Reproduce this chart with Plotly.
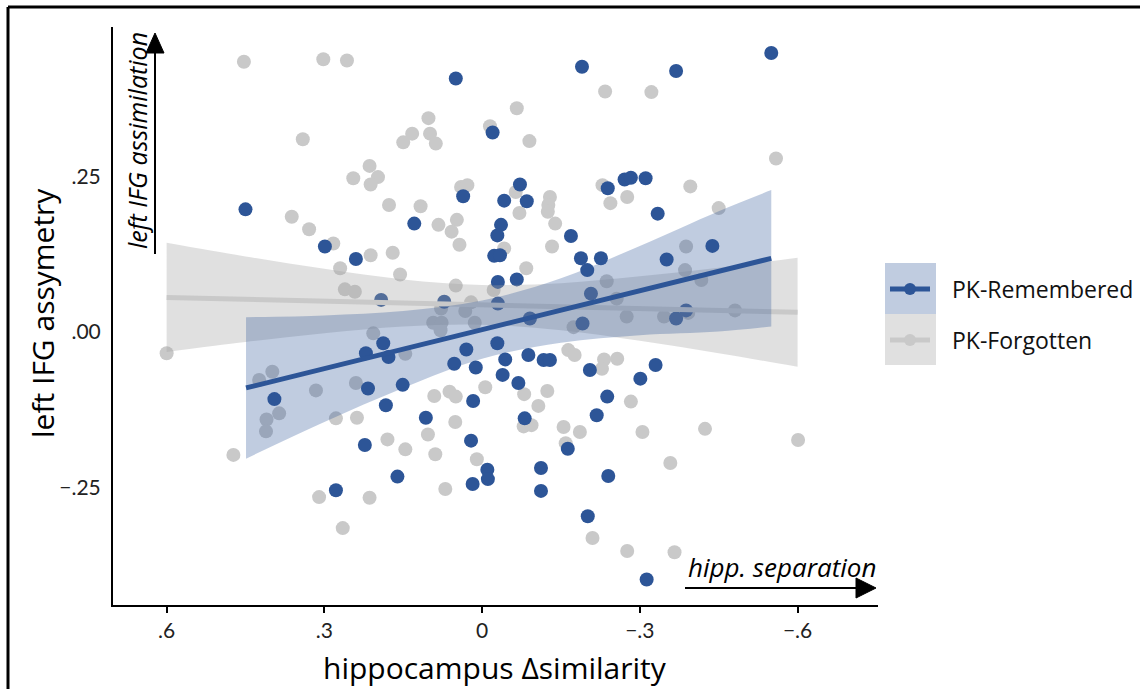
import plotly.graph_objects as go

# ---------------- data ----------------
blue_x = [0.050, -0.020, 0.450, 0.036, 0.129, 0.299, 0.240, 0.192, 0.072, -0.072,
          -0.042, -0.085, -0.036, -0.029, -0.169, -0.023, -0.034, -0.188, -0.226, -0.200,
          -0.030, -0.066, -0.239, -0.271, -0.283, -0.190, -0.369, -0.550, -0.311, -0.334,
          -0.351, -0.438, -0.030, -0.091, -0.207, -0.191, -0.369, -0.388, 0.188, 0.178,
          0.217, 0.151, 0.183, 0.030, -0.029, 0.053, 0.012, -0.044, -0.088, -0.117,
          -0.129, -0.039, -0.069, -0.205, 0.017, 0.107, -0.081, -0.238, -0.218, 0.021,
          -0.163, -0.010, -0.011, -0.112, 0.395, 0.221, 0.223, 0.161, 0.278, 0.018,
          -0.112, -0.240, -0.201, -0.313, -0.301, -0.330]
blue_y = [0.409, 0.322, 0.198, 0.219, 0.175, 0.138, 0.118, 0.052, 0.049, 0.238,
          0.212, 0.211, 0.173, 0.156, 0.155, 0.123, 0.124, 0.119, 0.119, 0.100,
          0.081, 0.085, 0.232, 0.246, 0.249, 0.428, 0.421, 0.450, 0.248, 0.191,
          0.117, 0.139, 0.046, 0.022, 0.062, 0.014, 0.022, 0.035, -0.018, -0.040,
          -0.091, -0.085, -0.118, -0.028, -0.018, -0.051, -0.057, -0.044, -0.037, -0.045,
          -0.045, -0.069, -0.082, -0.061, -0.111, -0.138, -0.139, -0.104, -0.134, -0.175,
          -0.188, -0.222, -0.237, -0.219, -0.108, -0.034, -0.182, -0.233, -0.255, -0.245,
          -0.256, -0.232, -0.297, -0.399, -0.075, -0.053]

gray_x = [0.453, 0.302, 0.257, 0.102, -0.015, 0.133, 0.150, 0.099, 0.088, 0.341,
          0.214, 0.198, 0.245, 0.212, 0.040, 0.028, 0.177, 0.117, 0.362, 0.329,
          0.083, 0.048, 0.058, 0.043, 0.283, 0.212, 0.170, 0.270, 0.156, 0.261,
          0.242, 0.050, -0.234, -0.066, -0.090, -0.064, -0.129, -0.126, -0.125, -0.071,
          -0.139, -0.042, -0.133, -0.084, -0.229, -0.244, -0.276, -0.237, -0.322, -0.559,
          -0.396, -0.450, -0.388, -0.022, -0.386, -0.417, 0.032, 0.021, 0.014, -0.256,
          -0.275, -0.346, -0.481, -0.174, -0.392, 0.078, 0.093, 0.077, 0.079, 0.207,
          0.146, -0.164, -0.176, -0.232, -0.257, -0.228, 0.091, 0.062, 0.050, -0.006,
          -0.080, -0.124, -0.107, 0.051, 0.103, 0.180, 0.146, 0.089, -0.079, -0.094,
          -0.155, -0.186, -0.159, 0.010, -0.283, 0.600, 0.424, 0.399, 0.386, 0.410,
          0.411, 0.316, 0.240, 0.473, 0.278, 0.238, 0.070, 0.310, 0.214, 0.265,
          -0.305, -0.424, -0.601, -0.358, -0.210, -0.276, -0.366]
gray_y = [0.436, 0.440, 0.438, 0.345, 0.332, 0.320, 0.306, 0.320, 0.304, 0.311,
          0.268, 0.250, 0.248, 0.238, 0.234, 0.237, 0.205, 0.203, 0.186, 0.166,
          0.173, 0.181, 0.162, 0.141, 0.143, 0.124, 0.128, 0.103, 0.093, 0.069,
          0.065, 0.075, 0.388, 0.361, 0.308, 0.226, 0.218, 0.205, 0.194, 0.192,
          0.175, 0.135, 0.138, 0.103, 0.237, 0.208, 0.218, 0.082, 0.387, 0.280,
          0.235, 0.200, 0.138, 0.068, 0.100, 0.084, 0.034, 0.048, 0.015, 0.054,
          0.025, 0.025, 0.035, 0.008, 0.031, 0.038, 0.015, 0.015, 0.003, -0.002,
          -0.035, -0.029, -0.037, -0.044, -0.043, -0.059, -0.103, -0.096, -0.104, -0.089,
          -0.100, -0.095, -0.119, -0.145, -0.165, -0.173, -0.189, -0.197, -0.152, -0.150,
          -0.153, -0.161, -0.179, -0.205, -0.112, -0.034, -0.077, -0.064, -0.131, -0.141,
          -0.160, -0.094, -0.082, -0.198, -0.139, -0.138, -0.253, -0.266, -0.267, -0.316,
          -0.161, -0.156, -0.174, -0.211, -0.332, -0.353, -0.355]

# linear fits with 95% confidence bands
blue_fit_x = [0.449, 0.30, 0.15, 0.0, -0.15, -0.30, -0.45, -0.55]
blue_fit_y = [-0.090, -0.059, -0.028, 0.004, 0.035, 0.067, 0.098, 0.119]
blue_lo = [-0.204, -0.145, -0.090, -0.043, -0.017, -0.005, 0.001, 0.009]
blue_hi = [0.024, 0.027, 0.034, 0.051, 0.087, 0.139, 0.195, 0.229]

gray_fit_x = [0.60, 0.45, 0.30, 0.15, 0.0, -0.15, -0.30, -0.45, -0.60]
gray_fit_y = [0.056, 0.053, 0.050, 0.047, 0.044, 0.041, 0.038, 0.035, 0.032]
gray_lo = [-0.032, -0.016, -0.002, 0.009, 0.012, 0.003, -0.014, -0.034, -0.056]
gray_hi = [0.144, 0.122, 0.102, 0.085, 0.076, 0.079, 0.090, 0.104, 0.120]

x_ticks = [0.6, 0.3, 0.0, -0.3, -0.6]
x_ticktext = [".6", ".3", "0", "\u2212.3", "\u2212.6"]
y_ticks = [0.25, 0.0, -0.25]
y_ticktext = [".25", ".00", "\u2212.25"]

series_names = ["PK-Remembered", "PK-Forgotten"]

# ---------------- styling ----------------
BLUE = "#2D5597"
GRAY = "#C9C9C9"
BLUE_FILL = "rgba(46,85,151,0.30)"
GRAY_FILL = "rgba(160,160,160,0.33)"
FONT = "Open Sans"
TICK_FONT = "Lato"

W, H = 1140, 689
L, R, T, B = 113, 878, 27, 605   # plot area in pixels


def px(xp):
    return (xp - L) / (R - L)


def py(yp):
    return (B - yp) / (B - T)


fig = go.Figure()

# points
fig.add_trace(go.Scatter(x=gray_x, y=gray_y, mode="markers",
                         marker=dict(size=14, color=GRAY), showlegend=False, hoverinfo="skip"))
fig.add_trace(go.Scatter(x=blue_x, y=blue_y, mode="markers",
                         marker=dict(size=14, color=BLUE), showlegend=False, hoverinfo="skip"))

# gray ribbon + line
fig.add_trace(go.Scatter(x=gray_fit_x, y=gray_lo, mode="lines", line=dict(width=0, shape="spline"),
                         showlegend=False, hoverinfo="skip"))
fig.add_trace(go.Scatter(x=gray_fit_x, y=gray_hi, mode="lines", line=dict(width=0, shape="spline"),
                         fill="tonexty", fillcolor=GRAY_FILL, showlegend=False, hoverinfo="skip"))
fig.add_trace(go.Scatter(x=gray_fit_x, y=gray_fit_y, mode="lines", line=dict(width=5, color=GRAY),
                         showlegend=False, hoverinfo="skip"))
# blue ribbon + line
fig.add_trace(go.Scatter(x=blue_fit_x, y=blue_lo, mode="lines", line=dict(width=0, shape="spline"),
                         showlegend=False, hoverinfo="skip"))
fig.add_trace(go.Scatter(x=blue_fit_x, y=blue_hi, mode="lines", line=dict(width=0, shape="spline"),
                         fill="tonexty", fillcolor=BLUE_FILL, showlegend=False, hoverinfo="skip"))
fig.add_trace(go.Scatter(x=blue_fit_x, y=blue_fit_y, mode="lines", line=dict(width=5, color=BLUE),
                         showlegend=False, hoverinfo="skip"))

shapes = []
annotations = []

# outer frame (left and top edges visible)
shapes.append(dict(type="line", xref="paper", yref="paper", x0=px(8), x1=px(8), y0=py(7), y1=py(720),
                   line=dict(color="black", width=3)))
shapes.append(dict(type="line", xref="paper", yref="paper", x0=px(8), x1=px(1160), y0=py(7), y1=py(7),
                   line=dict(color="black", width=3)))

# vertical arrow "left IFG assimilation"
shapes.append(dict(type="line", xref="paper", yref="paper", x0=px(155), x1=px(155), y0=py(254), y1=py(48),
                   line=dict(color="black", width=2)))
shapes.append(dict(type="path", xref="paper", yref="paper",
                   path=f"M {px(146)} {py(53)} L {px(164)} {py(53)} L {px(155)} {py(33)} Z",
                   fillcolor="black", line=dict(color="black", width=1)))
# horizontal arrow "hipp. separation"
shapes.append(dict(type="line", xref="paper", yref="paper", x0=px(685), x1=px(860), y0=py(588), y1=py(588),
                   line=dict(color="black", width=2)))
shapes.append(dict(type="path", xref="paper", yref="paper",
                   path=f"M {px(856)} {py(578)} L {px(856)} {py(598)} L {px(876)} {py(588)} Z",
                   fillcolor="black", line=dict(color="black", width=1)))

annotations.append(dict(text="<i>left IFG assimilation</i>", xref="paper", yref="paper",
                        x=px(137), y=py(141), textangle=-90, showarrow=False,
                        xanchor="center", yanchor="middle",
                        font=dict(family=FONT, size=25, color="black")))
annotations.append(dict(text="<i>hipp. separation</i>", xref="paper", yref="paper",
                        x=px(782), y=py(567), showarrow=False, xanchor="center", yanchor="middle",
                        font=dict(family=FONT, size=26, color="black")))

# axis titles
annotations.append(dict(text="left IFG assymetry", xref="paper", yref="paper",
                        x=px(42), y=py(313), textangle=-90, showarrow=False,
                        xanchor="center", yanchor="middle",
                        font=dict(family=FONT, size=30, color="black")))
annotations.append(dict(text="hippocampus \u0394similarity", xref="paper", yref="paper",
                        x=px(495), y=py(667), showarrow=False, xanchor="center", yanchor="middle",
                        font=dict(family=FONT, size=30, color="black")))

# legend
key_fills = [BLUE_FILL, GRAY_FILL]
key_cols = [BLUE, GRAY]
key_tops = [263, 314]
for name, kf, kc, top in zip(series_names, key_fills, key_cols, key_tops):
    cy = top + 26
    shapes.append(dict(type="rect", xref="paper", yref="paper", x0=px(885), x1=px(936),
                       y0=py(top + 51), y1=py(top), fillcolor=kf, line=dict(width=0)))
    shapes.append(dict(type="line", xref="paper", yref="paper", x0=px(890), x1=px(930),
                       y0=py(cy), y1=py(cy), line=dict(color=kc, width=5)))
    shapes.append(dict(type="circle", xref="paper", yref="paper", x0=px(904), x1=px(916),
                       y0=py(cy + 6), y1=py(cy - 6), fillcolor=kc, line=dict(width=0)))
    annotations.append(dict(text=name, xref="paper", yref="paper", x=px(950), y=py(cy),
                            xanchor="left", yanchor="middle", showarrow=False,
                            font=dict(family=FONT, size=23, color="#111111")))

fig.update_layout(
    width=W, height=H,
    margin=dict(l=L, r=W - R, t=T, b=H - B, pad=0),
    paper_bgcolor="white", plot_bgcolor="white",
    showlegend=False,
    shapes=shapes, annotations=annotations,
    font=dict(family=FONT, color="#222222"),
    xaxis=dict(range=[0.702, -0.753], tickvals=x_ticks, ticktext=x_ticktext,
               showgrid=False, zeroline=False, showline=True, linecolor="black", linewidth=2,
               ticks="outside", ticklen=6, tickwidth=2, tickcolor="black",
               tickfont=dict(family=TICK_FONT, size=21, color="#222222")),
    yaxis=dict(range=[-0.440, 0.492], tickvals=y_ticks, ticktext=y_ticktext,
               showgrid=False, zeroline=False, showline=True, linecolor="black", linewidth=2,
               ticks="outside", ticklen=6, tickcolor="rgba(0,0,0,0)",
               tickfont=dict(family=TICK_FONT, size=21, color="#222222")),
)

fig.write_html("out.html")
